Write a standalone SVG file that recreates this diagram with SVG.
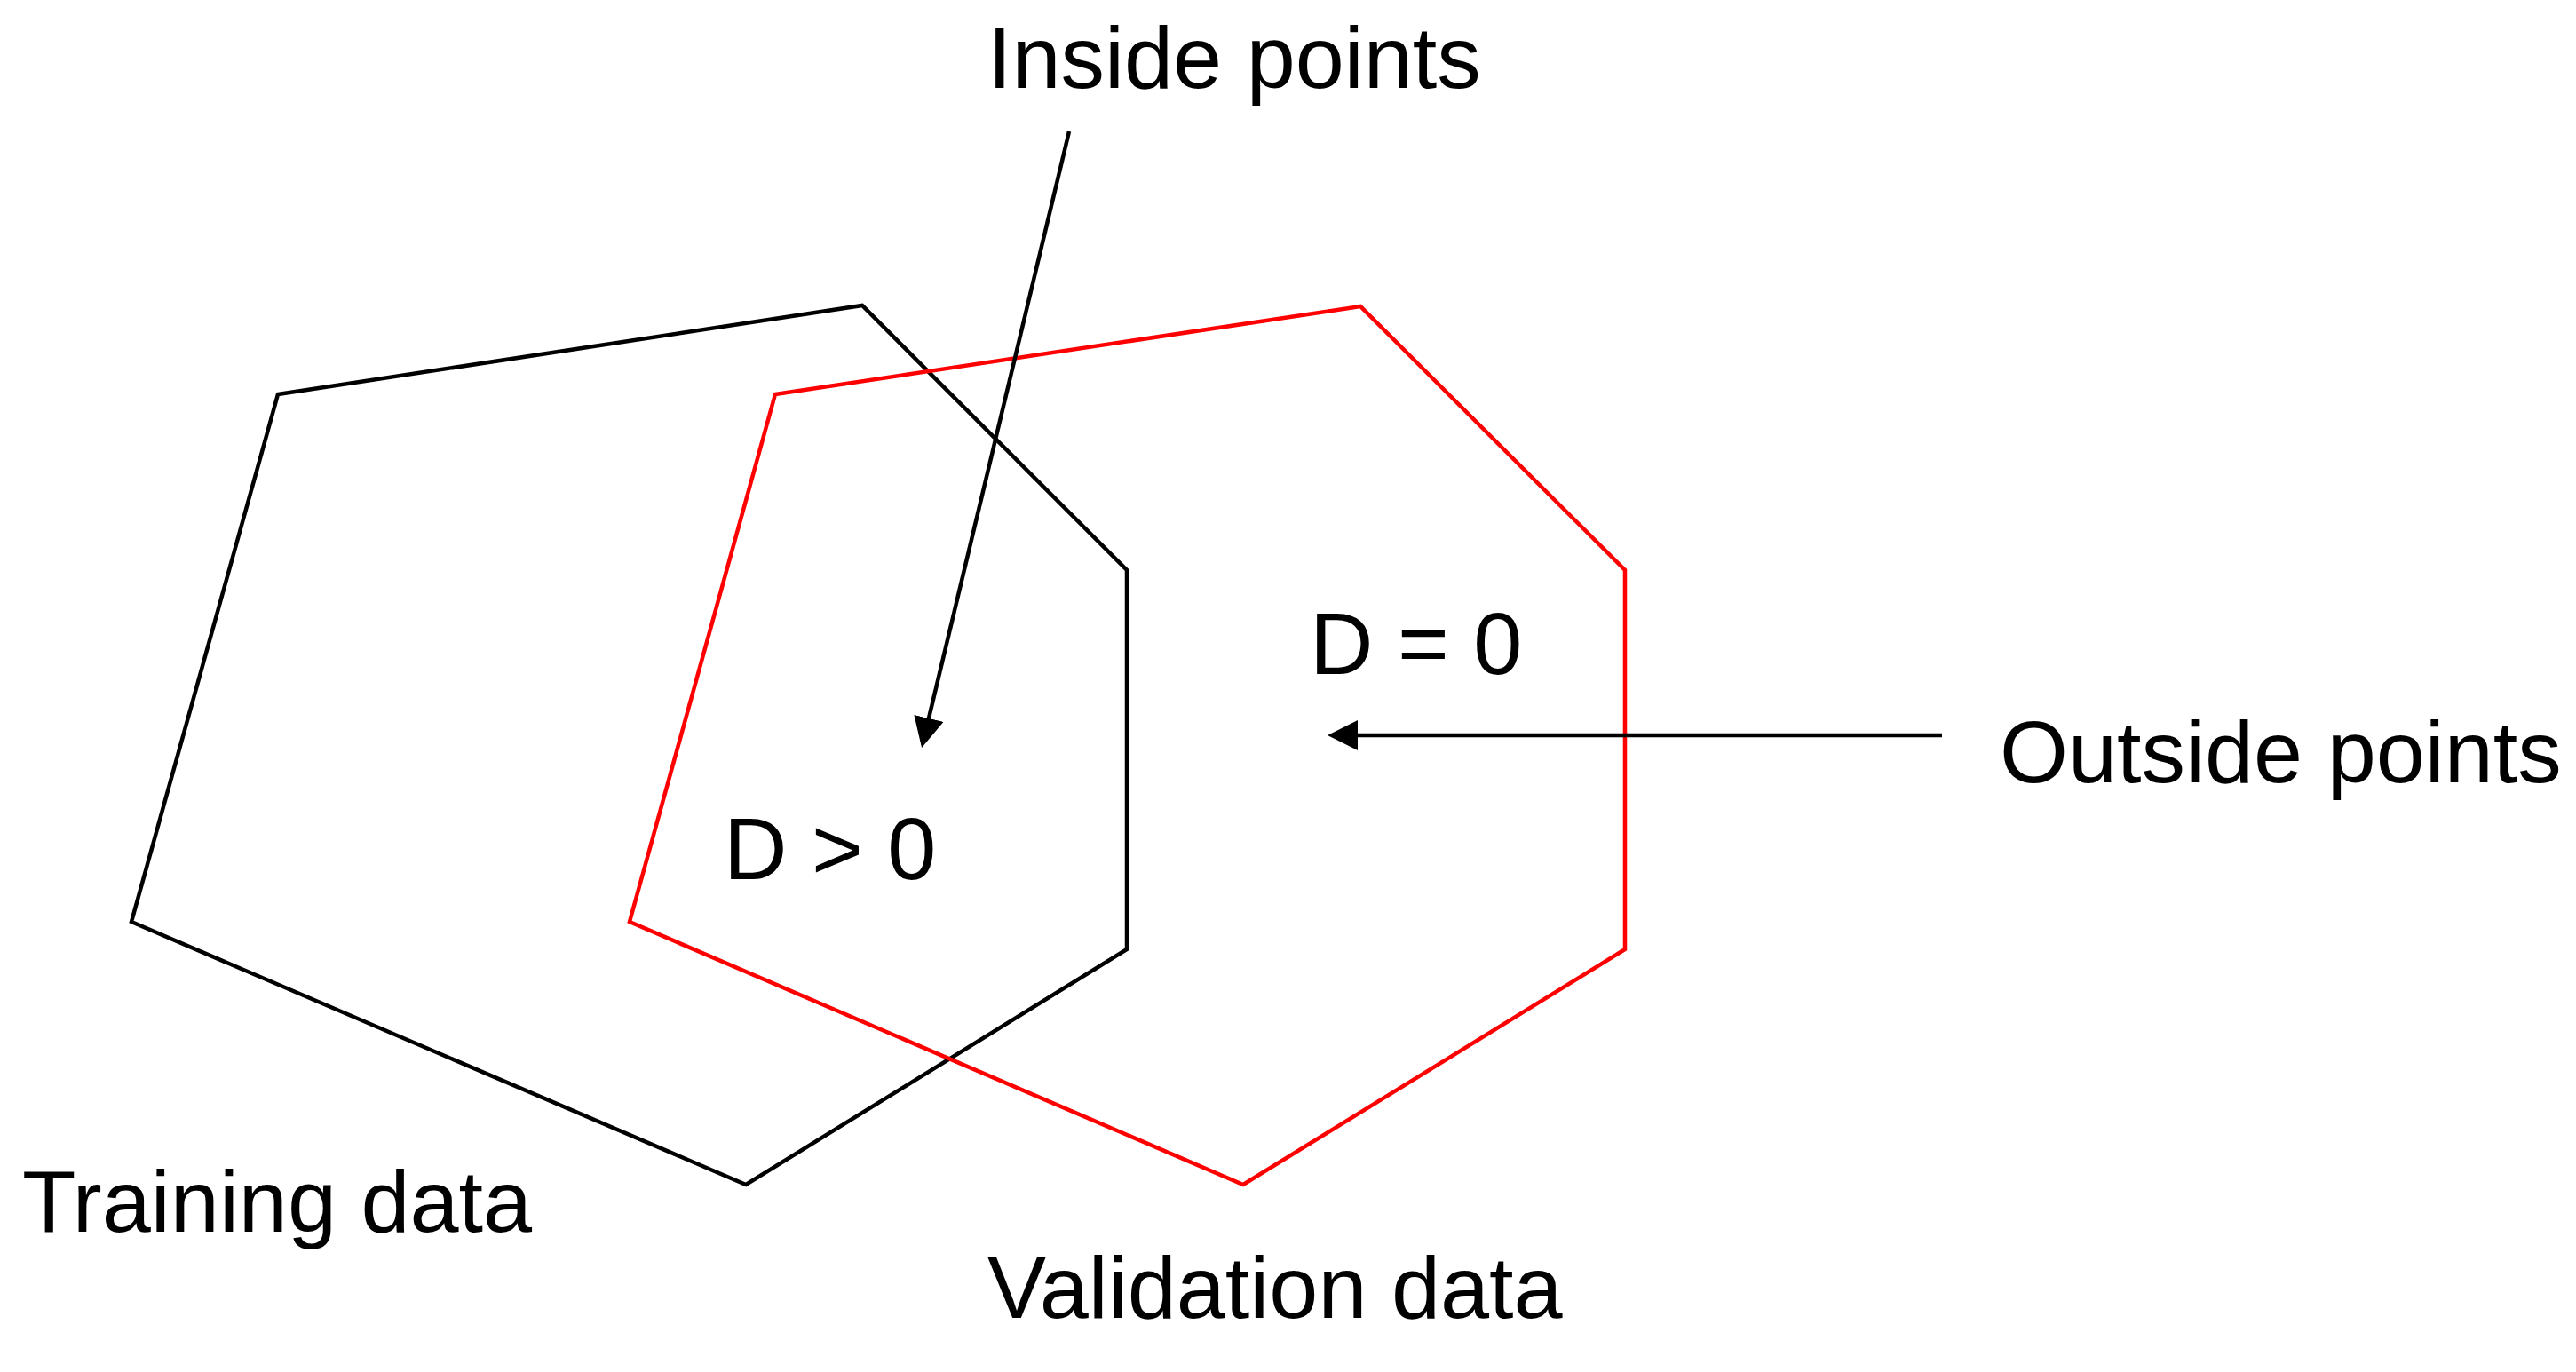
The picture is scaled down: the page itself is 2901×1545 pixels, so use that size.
<svg xmlns="http://www.w3.org/2000/svg" width="2901" height="1545" viewBox="0 0 2901 1545">
<style>
  .lbl { font-family: "Liberation Sans", Arial, sans-serif; font-size: 99px; fill: #000; }
  .poly { fill: none; stroke-width: 4.5; stroke-linejoin: miter; }
  .conn { stroke: #000; stroke-width: 4.5; fill: none; }
</style>
<defs>
  <marker id="arrow" viewBox="0 0 34 34" refX="4" refY="17" markerWidth="34" markerHeight="34" markerUnits="userSpaceOnUse" orient="auto">
    <path d="M0,0 L34,17 L0,34 z" fill="#000"/>
  </marker>
</defs>
<rect width="2901" height="1545" fill="#fff"/>
<g id="training">
  <polygon class="poly" stroke="#000" points="313,444 971,344 1269,642 1269,1069 840,1334 148,1038"/>
  <text class="lbl" x="25" y="1387">Training data</text>
</g>
<g id="validation">
  <polygon class="poly" stroke="#FF0000" points="873,444 1532,345 1830,642 1830,1069 1400,1334 709,1038"/>
  <text class="lbl" x="1112" y="1484">Validation data</text>
</g>
<g id="inside-label">
  <text class="lbl" x="1112" y="99">Inside points</text>
</g>
<g id="outside-label">
  <text class="lbl" x="2252" y="881">Outside points</text>
</g>
<g id="d-positive">
  <text class="lbl" x="815" y="990">D &gt; 0</text>
</g>
<g id="d-zero">
  <text class="lbl" x="1475" y="759">D = 0</text>
</g>
<g id="connectors">
  <line class="conn" x1="1204" y1="148" x2="1045" y2="812.8" marker-end="url(#arrow)"/>
  <line class="conn" x1="2187" y1="828" x2="1525" y2="828" marker-end="url(#arrow)"/>
</g>
</svg>
